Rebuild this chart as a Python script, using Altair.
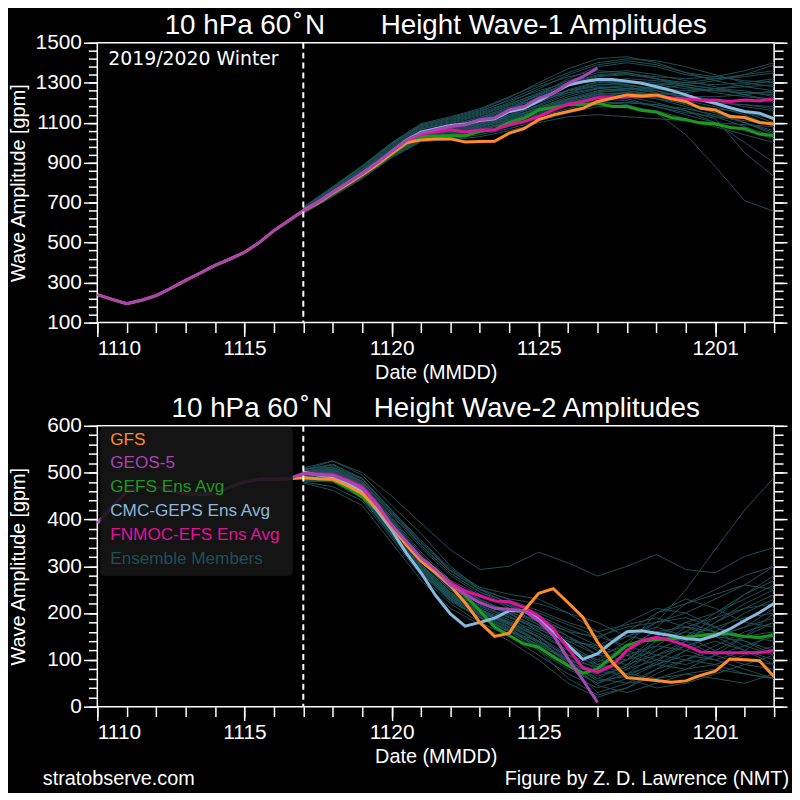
import altair as alt
import pandas as pd

FONT = "Liberation Sans"
C_GFS = "#ff8c28"
C_GEOS = "#a844b4"
C_GEFS = "#1c9a1c"
C_CMC = "#8ab8dc"
C_FNMOC = "#e0129a"
C_MEM = "#1f5056"


def iso(ts):
    return ts.strftime("%Y-%m-%dT%H:%M:%SZ")


# ---------------- time axes ----------------
ANA_T = [iso(t) for t in pd.date_range("2019-11-10", "2019-11-16 12:00", freq="12h")]
FC_T = [iso(t) for t in pd.date_range("2019-11-17", "2019-12-03", freq="12h")]
MEM_T = [iso(t) for t in pd.date_range("2019-11-17", "2019-12-03", freq="24h")]
GEOS_T = FC_T[:21]
INIT_T = ["2019-11-17T00:00:00Z"]
MAJOR_DAYS = [(11, 10), (11, 15), (11, 20), (11, 25), (12, 1)]
MINOR_DAYS = [(11, d) for d in range(10, 31)] + [(12, d) for d in range(1, 4)]

# ---------------- wave-1 (top) ----------------
W1_ANA = [240, 216, 195, 212, 235, 272, 311, 348, 386, 418, 452, 500, 560, 610]
W1_GFS = [660, 698, 748, 792, 840, 890, 945, 1000, 1014, 1018, 1019, 1004, 1006, 1007, 1048, 1070,
          1115, 1139, 1156, 1172, 1206, 1222, 1239, 1234, 1239, 1219, 1206, 1172, 1164, 1131, 1126, 1101, 1093]
W1_GEOS = [660, 702, 752, 798, 846, 898, 955, 1010, 1048, 1065, 1081, 1090, 1115, 1123, 1164, 1181,
           1222, 1247, 1297, 1330, 1374]
W1_GEFS = [658, 698, 746, 792, 838, 888, 942, 995, 1030, 1033, 1035, 1035, 1057, 1065, 1101, 1123,
           1164, 1176, 1189, 1192, 1197, 1181, 1181, 1161, 1153, 1126, 1115, 1098, 1093, 1076, 1070, 1043, 1035]
W1_CMC = [662, 702, 752, 798, 846, 898, 955, 1012, 1053, 1070, 1086, 1093, 1111, 1120, 1156, 1172,
          1209, 1250, 1288, 1305, 1316, 1316, 1308, 1297, 1280, 1262, 1239, 1214, 1197, 1175, 1156, 1148, 1119]
W1_FNMOC = [662, 703, 752, 798, 845, 896, 952, 1008, 1043, 1055, 1065, 1053, 1063, 1065, 1090, 1106,
            1131, 1164, 1192, 1206, 1225, 1225, 1230, 1230, 1235, 1225, 1219, 1212, 1214, 1206, 1214, 1209, 1219]
W1_MEMBERS = [
    [665, 755, 850, 960, 1060, 1080, 1120, 1170, 1240, 1320, 1380, 1400, 1380, 1340, 1320, 1330, 1350],
    [655, 745, 835, 940, 1030, 1040, 1060, 1100, 1150, 1200, 1230, 1220, 1180, 1140, 1100, 1060, 1020],
    [670, 770, 870, 990, 1080, 1110, 1150, 1200, 1270, 1340, 1390, 1410, 1390, 1350, 1330, 1310, 1300],
    [650, 735, 825, 930, 1010, 1020, 1040, 1070, 1110, 1150, 1180, 1180, 1160, 1120, 1080, 1040, 1000],
    [660, 750, 845, 955, 1045, 1065, 1090, 1130, 1190, 1250, 1290, 1300, 1290, 1270, 1260, 1250, 1250],
    [675, 775, 880, 995, 1090, 1120, 1160, 1210, 1260, 1300, 1310, 1290, 1260, 1220, 1200, 1190, 1180],
    [645, 730, 820, 925, 1005, 1015, 1030, 1060, 1100, 1130, 1140, 1130, 1120, 1110, 1100, 1090, 1080],
    [662, 752, 848, 958, 1050, 1075, 1110, 1160, 1230, 1290, 1320, 1310, 1280, 1240, 1200, 1150, 1100],
    [668, 760, 858, 965, 1050, 1065, 1090, 1130, 1170, 1200, 1210, 1190, 1150, 1040, 880, 710, 656],
    [658, 748, 840, 950, 1040, 1060, 1085, 1120, 1170, 1220, 1260, 1270, 1270, 1290, 1310, 1340, 1390],
    [672, 765, 865, 980, 1070, 1100, 1140, 1190, 1250, 1310, 1350, 1360, 1340, 1310, 1280, 1240, 1200],
    [652, 740, 830, 935, 1020, 1030, 1050, 1080, 1130, 1170, 1200, 1200, 1190, 1170, 1140, 1100, 1050],
    [664, 758, 855, 965, 1055, 1085, 1125, 1175, 1220, 1260, 1280, 1270, 1250, 1230, 1230, 1240, 1260],
    [656, 742, 838, 945, 1035, 1050, 1070, 1100, 1140, 1190, 1230, 1250, 1240, 1210, 1180, 1140, 1080],
    [678, 780, 885, 1000, 1095, 1130, 1170, 1230, 1290, 1350, 1400, 1420, 1410, 1380, 1340, 1300, 1280],
    [661, 753, 850, 960, 1048, 1070, 1100, 1140, 1180, 1220, 1240, 1230, 1200, 1160, 1100, 1000, 900],
    [667, 762, 858, 968, 1058, 1080, 1115, 1160, 1210, 1250, 1270, 1260, 1240, 1250, 1270, 1280, 1290],
    [654, 744, 836, 942, 1028, 1045, 1075, 1115, 1165, 1210, 1250, 1270, 1260, 1230, 1190, 1150, 1120],
    [669, 764, 862, 975, 1068, 1095, 1135, 1185, 1240, 1300, 1340, 1350, 1320, 1280, 1250, 1230, 1220],
    [659, 749, 842, 952, 1042, 1058, 1080, 1115, 1160, 1200, 1220, 1210, 1180, 1150, 1130, 1110, 1090],
    [663, 756, 853, 962, 1052, 1078, 1118, 1168, 1225, 1285, 1330, 1340, 1320, 1300, 1290, 1300, 1320],
    [657, 746, 839, 948, 1038, 1055, 1082, 1125, 1175, 1230, 1270, 1280, 1250, 1200, 1150, 1100, 1040],
    [671, 768, 868, 985, 1075, 1105, 1145, 1195, 1245, 1290, 1310, 1300, 1290, 1300, 1320, 1340, 1360],
    [653, 738, 832, 938, 1025, 1040, 1065, 1105, 1155, 1205, 1240, 1250, 1230, 1190, 1150, 1100, 1060],
    [666, 757, 852, 963, 1054, 1072, 1105, 1150, 1200, 1260, 1300, 1310, 1300, 1280, 1260, 1250, 1240],
    [660, 750, 843, 953, 1044, 1062, 1095, 1140, 1200, 1260, 1290, 1290, 1270, 1240, 1210, 1180, 1160],
    [674, 772, 876, 992, 1085, 1115, 1155, 1215, 1280, 1330, 1360, 1350, 1320, 1290, 1270, 1260, 1230],
    [648, 733, 823, 928, 1008, 1025, 1050, 1085, 1120, 1160, 1190, 1200, 1190, 1160, 1120, 950, 830],
    [651, 737, 828, 933, 1015, 1035, 1062, 1098, 1145, 1195, 1225, 1235, 1220, 1180, 1130, 1080, 1030],
    [676, 778, 882, 998, 1088, 1125, 1165, 1225, 1300, 1370, 1420, 1430, 1400, 1350, 1310, 1280, 1260],
    [663, 754, 851, 961, 1051, 1068, 1098, 1135, 1185, 1240, 1275, 1285, 1270, 1260, 1270, 1290, 1310],
    [657, 747, 841, 949, 1036, 1052, 1078, 1112, 1158, 1205, 1235, 1240, 1220, 1195, 1170, 1150, 1130],
    [669, 763, 861, 972, 1062, 1088, 1128, 1178, 1235, 1295, 1335, 1345, 1330, 1320, 1330, 1360, 1400],
    [654, 743, 835, 941, 1026, 1042, 1068, 1108, 1160, 1215, 1255, 1260, 1240, 1200, 1160, 1120, 1090],
    [666, 759, 856, 966, 1056, 1076, 1108, 1152, 1205, 1265, 1305, 1320, 1310, 1290, 1270, 1240, 1210],
    [659, 751, 846, 956, 1046, 1064, 1092, 1128, 1172, 1215, 1245, 1250, 1235, 1215, 1200, 1190, 1170],
]

# ---------------- wave-2 (bottom) ----------------
W2_ANA = [392, 427, 459, 469, 469, 462, 455, 454, 455, 469, 480, 486, 486, 487]
W2_GFS = [489, 487, 486, 472, 455, 424, 385, 346, 311, 286, 258, 222, 180, 150, 157, 205,
          242, 252, 222, 191, 138, 95, 62, 59, 56, 52, 55, 67, 76, 102, 100, 98, 64]
W2_GEOS = [498, 496, 494, 482, 466, 431, 388, 353, 318, 293, 261, 240, 222, 210, 208, 205,
           183, 152, 102, 57, 9]
W2_GEFS = [489, 487, 484, 468, 448, 420, 385, 350, 318, 293, 265, 237, 205, 170, 152, 134,
           127, 106, 88, 71, 81, 106, 131, 140, 143, 145, 148, 152, 155, 155, 150, 148, 153]
W2_CMC = [501, 495, 491, 478, 459, 420, 378, 328, 286, 237, 198, 172, 180, 189, 205, 205,
          189, 159, 131, 101, 113, 138, 160, 162, 157, 152, 145, 143, 152, 166, 184, 201, 221]
W2_FNMOC = [498, 497, 496, 484, 470, 434, 388, 350, 314, 290, 265, 247, 237, 226, 224, 212,
            194, 166, 124, 83, 74, 88, 120, 141, 148, 141, 131, 117, 115, 115, 115, 115, 120]
W2_MEMBERS = [
    [495, 500, 470, 390, 300, 240, 200, 180, 150, 100, 60, 90, 140, 180, 200, 230, 260],
    [490, 495, 460, 380, 310, 250, 210, 170, 120, 80, 50, 70, 110, 130, 150, 140, 120],
    [505, 525, 500, 450, 392, 335, 293, 300, 330, 307, 279, 300, 325, 293, 286, 321, 340],
    [485, 490, 450, 370, 290, 230, 190, 160, 140, 110, 90, 120, 150, 140, 110, 90, 80],
    [500, 505, 475, 400, 320, 260, 230, 200, 160, 120, 100, 140, 180, 200, 230, 260, 300],
    [480, 470, 440, 360, 280, 220, 180, 150, 110, 70, 40, 60, 90, 110, 100, 80, 60],
    [510, 525, 495, 430, 370, 300, 250, 220, 190, 160, 150, 170, 180, 250, 336, 420, 490],
    [492, 498, 465, 385, 305, 245, 215, 190, 170, 140, 110, 130, 160, 170, 160, 150, 140],
    [498, 502, 472, 395, 315, 255, 225, 195, 145, 90, 30, 50, 80, 100, 90, 70, 60],
    [488, 493, 455, 375, 295, 235, 200, 175, 135, 95, 70, 110, 170, 220, 250, 280, 300],
    [502, 508, 480, 410, 340, 280, 240, 210, 180, 150, 120, 150, 180, 190, 170, 140, 110],
    [486, 488, 452, 372, 292, 232, 195, 165, 125, 85, 50, 80, 120, 150, 170, 190, 200],
    [496, 500, 468, 392, 312, 252, 220, 200, 185, 160, 130, 110, 90, 80, 90, 110, 130],
    [482, 480, 445, 365, 285, 225, 190, 160, 120, 60, 25, 40, 70, 100, 130, 160, 180],
    [504, 512, 482, 415, 350, 290, 250, 230, 220, 200, 160, 120, 100, 90, 110, 130, 150],
    [494, 497, 464, 384, 304, 244, 212, 185, 160, 130, 100, 90, 110, 140, 180, 220, 250],
    [490, 492, 458, 378, 298, 238, 205, 180, 150, 110, 80, 100, 140, 160, 150, 120, 100],
    [500, 506, 476, 402, 325, 265, 235, 215, 195, 165, 145, 180, 210, 200, 170, 150, 160],
    [484, 485, 448, 368, 288, 228, 192, 162, 128, 90, 60, 50, 60, 70, 80, 70, 60],
    [498, 504, 474, 398, 318, 258, 228, 205, 175, 135, 95, 130, 200, 230, 210, 180, 170],
    [488, 490, 454, 374, 294, 234, 198, 170, 140, 100, 75, 70, 90, 120, 160, 200, 230],
    [506, 518, 488, 420, 355, 295, 255, 240, 230, 200, 180, 150, 140, 160, 200, 240, 280],
    [493, 496, 462, 382, 302, 242, 208, 182, 155, 120, 85, 60, 40, 50, 70, 90, 110],
    [497, 501, 470, 394, 314, 254, 222, 198, 170, 145, 125, 150, 170, 150, 120, 100, 90],
    [487, 491, 456, 376, 296, 236, 203, 178, 148, 105, 65, 85, 130, 170, 190, 210, 220],
    [501, 507, 478, 405, 330, 270, 238, 218, 190, 150, 110, 100, 120, 150, 190, 240, 270],
    [478, 462, 430, 350, 270, 210, 175, 140, 100, 50, 20, 40, 80, 120, 140, 120, 90],
    [508, 512, 486, 418, 345, 285, 245, 215, 175, 130, 90, 80, 100, 130, 150, 170, 190],
    [491, 494, 461, 381, 301, 241, 207, 178, 140, 95, 55, 65, 95, 140, 180, 210, 240],
    [503, 510, 481, 412, 345, 285, 245, 222, 200, 175, 150, 130, 110, 100, 120, 150, 180],
    [485, 487, 451, 371, 291, 231, 196, 168, 130, 90, 70, 100, 150, 180, 160, 130, 110],
    [499, 503, 473, 397, 317, 257, 226, 200, 168, 128, 90, 70, 60, 80, 110, 150, 200],
    [495, 499, 467, 389, 309, 249, 217, 192, 165, 140, 130, 160, 200, 220, 240, 260, 250],
    [489, 492, 457, 377, 297, 237, 204, 176, 138, 98, 45, 30, 50, 70, 60, 50, 70],
    [507, 516, 486, 419, 352, 292, 252, 228, 205, 180, 160, 175, 190, 170, 150, 170, 210],
    [483, 483, 447, 367, 287, 227, 191, 163, 132, 100, 85, 110, 130, 120, 100, 120, 160],
]

LEGEND_LABELS = ["GFS", "GEOS-5", "GEFS Ens Avg", "CMC-GEPS Ens Avg", "FNMOC-EFS Ens Avg", "Ensemble Members"]
LEGEND_COLORS = [C_GFS, C_GEOS, C_GEFS, C_CMC, C_FNMOC, C_MEM]

TITLE1 = "10 hPa 60\u200a\u02da\u200aN\u2003\u2003Height Wave-1 Amplitudes"
TITLE2 = "10 hPa 60\u200a\u02da\u200aN\u2003\u2002Height Wave-2 Amplitudes"

W, H1, H2 = 682, 282, 283


def dt(m, d):
    return alt.DateTime(year=2019, month=m, date=d, hours=0, utc=True)


XSCALE = alt.Scale(type="utc", domain=[dt(11, 10), dt(12, 3)])


def series_df(times, values):
    return pd.DataFrame({"t": times, "v": values})


def members_df(members):
    rows = []
    for i, m in enumerate(members):
        for t, v in zip(MEM_T, m):
            rows.append({"t": t, "v": v, "m": i})
    return pd.DataFrame(rows)


def panel(title, ana, gfs, geos, gefs, cmc, fnmoc, members, ymin, ymax, major, minor, height, extras):
    yscale = alt.Scale(domain=[ymin, ymax], nice=False, zero=False)
    common = dict(tickColor="white", tickWidth=1.5, domain=False, grid=False)
    y_major = alt.Axis(orient="left", values=list(range(ymin, ymax + 1, major)), tickSize=14, format="d",
                       labelColor="white", labelFont=FONT, labelFontSize=21, labelPadding=2,
                       title="Wave Amplitude [gpm]", titleColor="white", titleFont=FONT, titleFontSize=20,
                       titleFontWeight="normal", titlePadding=6, minExtent=63, maxExtent=63,
                       labelOverlap=False, **common)
    y_minor = alt.Axis(orient="left", values=list(range(ymin, ymax + 1, minor)), tickSize=9,
                       labels=False, title=None, **common)
    y_minor_r = alt.Axis(orient="right", values=list(range(ymin, ymax + 1, minor)), tickSize=9,
                         labels=False, title=None, **common)
    y_major_r = alt.Axis(orient="right", values=list(range(ymin, ymax + 1, major)), tickSize=13,
                         labels=False, title=None, **common)
    x_major = alt.Axis(orient="bottom", values=[dt(m, d) for m, d in MAJOR_DAYS], tickSize=14,
                       labelExpr="utcFormat(datum.value, '%m%d')", labelColor="white", labelFont=FONT,
                       labelFontSize=21, labelPadding=1, labelOverlap=False,
                       title="Date (MMDD)", titleColor="white", titleFont=FONT, titleFontSize=20,
                       titleFontWeight="normal", titlePadding=4, **common)
    x_minor = alt.Axis(orient="bottom", values=[dt(m, d) for m, d in MINOR_DAYS], tickSize=10,
                       labels=False, title=None, **common)

    def line(df, color, width, xaxis=None, yaxis=None, detail=None):
        enc = dict(x=alt.X("t:T", scale=XSCALE, axis=xaxis), y=alt.Y("v:Q", scale=yscale, axis=yaxis))
        if detail:
            enc["detail"] = detail
        return alt.Chart(df).mark_line(color=color, strokeWidth=width, clip=True).encode(**enc)

    mem = line(members_df(members), C_MEM, 1, x_major, y_major, detail="m:N")
    l_gefs = line(series_df(FC_T, gefs), C_GEFS, 3, x_minor, y_minor)
    l_cmc = line(series_df(FC_T, cmc), C_CMC, 3, None, y_minor_r)
    l_fnmoc = line(series_df(FC_T, fnmoc), C_FNMOC, 3, None, y_major_r)
    l_gfs = line(series_df(ANA_T + FC_T, ana + gfs), C_GFS, 3)
    l_geos = line(series_df(ANA_T + GEOS_T, ana + geos), C_GEOS, 3)
    rule = alt.Chart(pd.DataFrame({"t": INIT_T})).mark_rule(
        color="white", strokeWidth=2, strokeDash=[6, 4]).encode(x=alt.X("t:T", scale=XSCALE, axis=None))

    layers = [mem, l_gefs, l_cmc, l_fnmoc, l_gfs, l_geos, rule] + extras
    return alt.layer(*layers).resolve_scale(x="independent", y="independent").resolve_axis(
        x="independent", y="independent").properties(
        width=W, height=height,
        title=alt.TitleParams(title, anchor="middle", font=FONT, fontSize=28, color="white",
                              fontWeight="normal", offset=-8))


one = pd.DataFrame({"k": [0]})

winter = alt.Chart(one).mark_text(align="left", baseline="alphabetic", font="DejaVu Sans", fontSize=19,
                                  color="white").encode(x=alt.value(11), y=alt.value(22),
                                                        text=alt.value("2019/2020 Winter"))

legend_box = alt.Chart(one).mark_rect(fill="#161616", opacity=0.9, cornerRadius=4).encode(
    x=alt.value(3), x2=alt.value(197), y=alt.value(1), y2=alt.value(151))
legend_texts = [
    alt.Chart(one).mark_text(align="left", baseline="middle", font=FONT, fontSize=17.3, color=c).encode(
        x=alt.value(13), y=alt.value(14 + 24 * i), text=alt.value(lab))
    for i, (lab, c) in enumerate(zip(LEGEND_LABELS, LEGEND_COLORS))
]
footer_l = alt.Chart(one).mark_text(align="left", baseline="alphabetic", font=FONT, fontSize=20,
                                    color="white").encode(x=alt.value(-55), y=alt.value(362),
                                                          text=alt.value("stratobserve.com"))
footer_r = alt.Chart(one).mark_text(align="right", baseline="alphabetic", font=FONT, fontSize=20,
                                    color="white").encode(x=alt.value(697), y=alt.value(362),
                                                          text=alt.value("Figure by Z. D. Lawrence (NMT)"))

top = panel(TITLE1, W1_ANA, W1_GFS, W1_GEOS, W1_GEFS, W1_CMC, W1_FNMOC, W1_MEMBERS,
            100, 1500, 200, 40, H1, [winter])
bottom = panel(TITLE2, W2_ANA, W2_GFS, W2_GEOS, W2_GEFS, W2_CMC, W2_FNMOC, W2_MEMBERS,
               0, 600, 100, 20, H2, [legend_box] + legend_texts + [footer_l, footer_r])

chart = alt.vconcat(top, bottom, spacing=11).properties(
    background="black", padding={"left": 0, "top": 0, "right": 2, "bottom": 0}
).configure_view(stroke="white", strokeWidth=1.5)

chart.save("out.html", embed_options={"renderer": "svg", "actions": False})
